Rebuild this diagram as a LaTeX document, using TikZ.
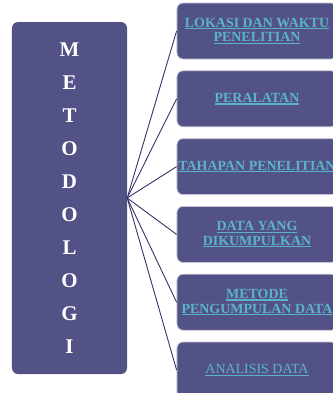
\documentclass[tikz,border=0pt]{standalone}
\usepackage{fontspec}
\setmainfont{Liberation Serif}
\usetikzlibrary{positioning}
\definecolor{boxfill}{HTML}{535287}
\definecolor{linkteal}{HTML}{5BB4C6}
\definecolor{edgenavy}{HTML}{35356A}
\definecolor{rimgray}{HTML}{C4C4D6}
\newcommand{\ulink}[1]{\leavevmode\setbox0\hbox{#1}%
  \rlap{\rule[-2.2bp]{\wd0}{1.2bp}}\box0}

\begin{document}
\begin{tikzpicture}[
  x=1bp, y=-1bp,
  every node/.style={rectangle, rounded corners=6bp, fill=boxfill,
    text centered, inner sep=0pt},
  mainbox/.style={minimum width=115bp, minimum height=352bp, text=white,
    font=\fontsize{21}{33.1}\selectfont\bfseries, align=center},
  itembox/.style={draw=rimgray, line width=0.8bp, minimum width=160bp,
    minimum height=56bp, text=linkteal,
    font=\fontsize{14}{14.7}\selectfont\bfseries, align=center},
  spoke/.style={draw=edgenavy, line width=0.9bp}
]
\clip (0,0) rectangle (333,393);
\fill[white] (0,0) rectangle (333,393);

\node[mainbox] (meto) at (69.5,198) {M\\E\\T\\O\\D\\O\\L\\O\\G\\I};

\node[itembox] (lokasi) at (257,31) {\ulink{LOKASI DAN WAKTU}\\\ulink{PENELITIAN}};
\node[itembox, below=11bp of lokasi] (peralatan) {\ulink{PERALATAN}};
\node[itembox, below=11bp of peralatan] (tahapan) {\ulink{TAHAPAN PENELITIAN}};
\node[itembox, below=11bp of tahapan] (data) {\ulink{DATA YANG}\\\ulink{DIKUMPULKAN}};
\node[itembox, below=11bp of data] (metode) {\ulink{METODE}\\\ulink{PENGUMPULAN DATA}};
\node[itembox, below=11bp of metode] (analisis) {\mdseries\ulink{ANALISIS DATA}};

\foreach \b in {lokasi,peralatan,tahapan,data,metode,analisis}
  \draw[spoke] (meto.east) -- (\b.west);

\end{tikzpicture}
\end{document}
